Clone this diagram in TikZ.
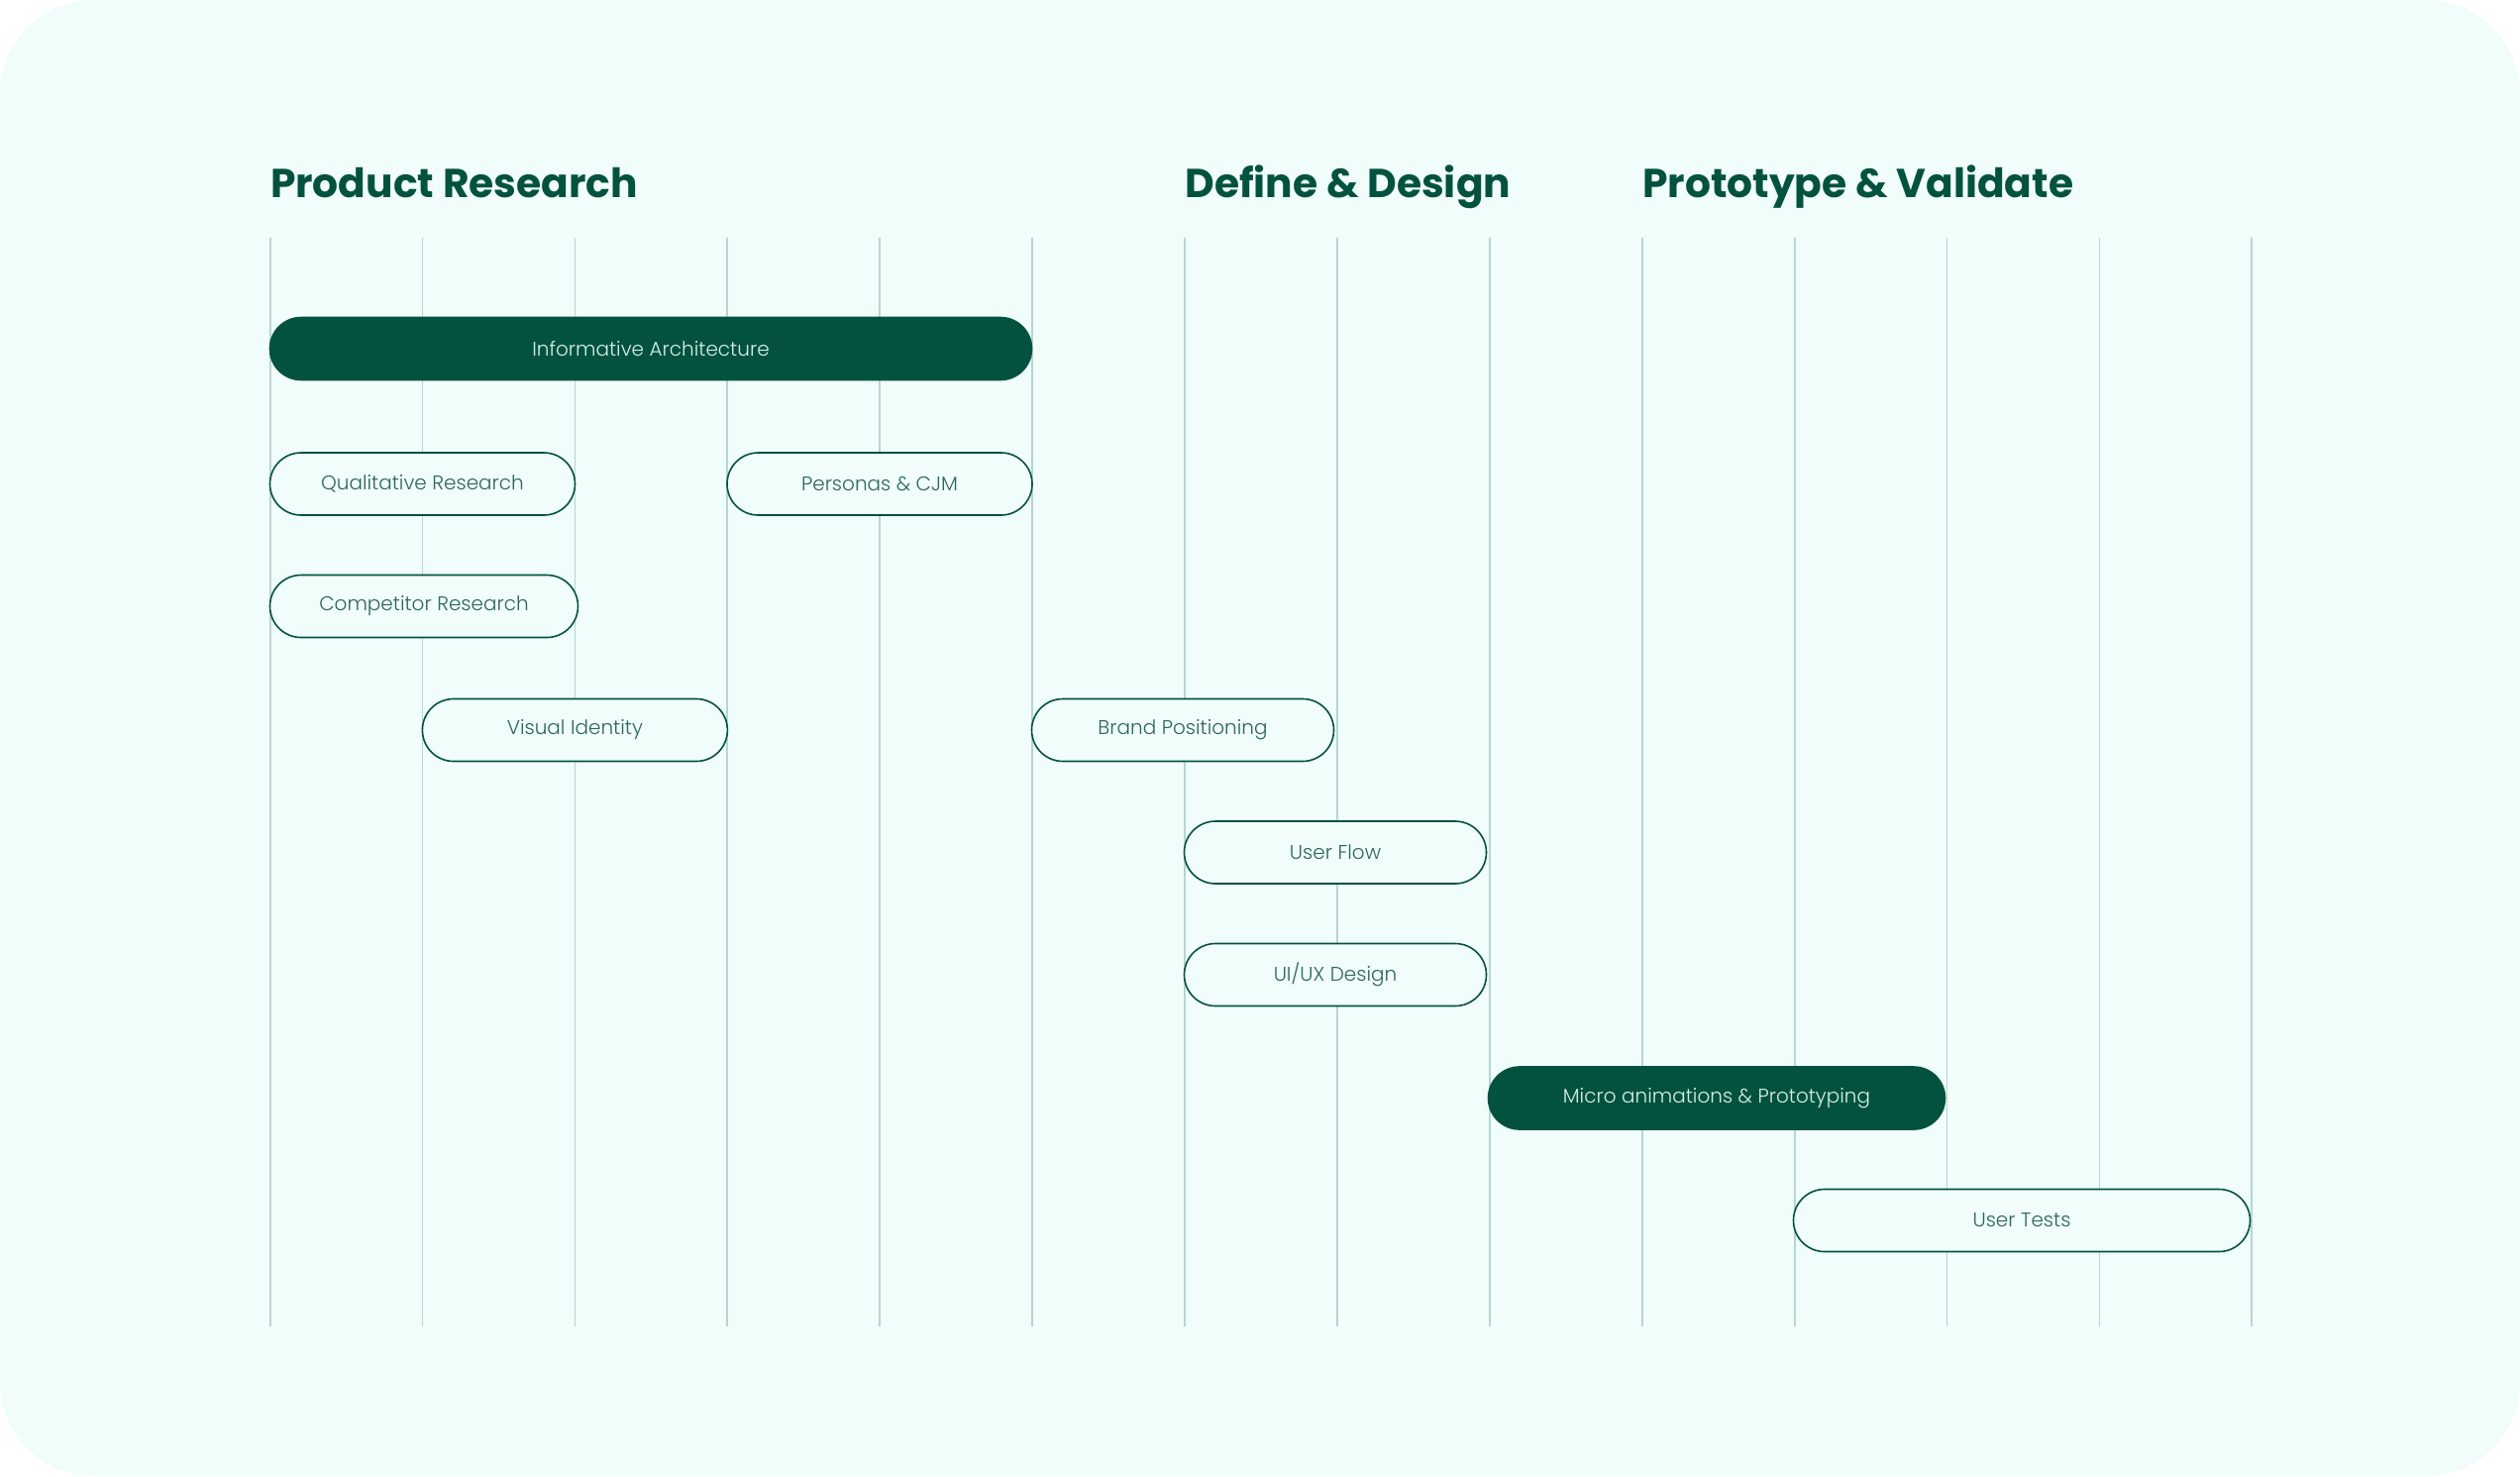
\documentclass[tikz,border=0pt]{standalone}
\usepackage{fontspec}
\setmainfont{Poppins}
\newfontfamily\lightfont{Poppins Light}
\definecolor{bgmint}{HTML}{F0FDFA}
\definecolor{dgreen}{HTML}{03523F}
\definecolor{gridc}{HTML}{B8D5CF}
\definecolor{ptext}{HTML}{2F665A}
\definecolor{ftext}{HTML}{D5EEE8}
\tikzset{
  pill/.style={draw=dgreen, line width=0.8pt, fill=bgmint, rounded corners=15.75pt,
    minimum height=31.5pt, inner sep=0pt, text=ptext, font=\lightfont\fontsize{10}{12}\selectfont},
  pillfill/.style={pill, fill=dgreen, text=ftext},
  gridline/.style={draw=gridc, line width=0.9pt},
  title/.style={anchor=base west, inner sep=0pt, text=dgreen, font=\bfseries\fontsize{20.4}{24}\selectfont}
}
\begin{document}
\begin{tikzpicture}[x=0.5pt,y=-0.5pt]
\useasboundingbox (0,0) rectangle (2544,1490);
\fill[white] (0,0) rectangle (2544,1490);
\fill[bgmint, rounded corners=47.5pt] (0,0) rectangle (2544,1490);
% grid lines
\foreach \i in {0,...,13}{
  \coordinate (t\i) at ({272.6+153.9*\i},240);
  \coordinate (b\i) at ({272.6+153.9*\i},1338.5);
  \draw[gridline] (t\i) -- (b\i);
}
% titles
\node[title] (h1) at (272.6,199) {Product Research};
\node[title] (h2) at (1196,199) {Define \& Design};
\node[title] (h3) at (1657.7,199) {Prototype \& Validate};
% pills
\node[pillfill, minimum width=384.5pt] (ia) at (657,352) {Informative Architecture};
\node[pill, minimum width=154pt] (qual) at (426.5,488.5) {Qualitative Research};
\node[pill, minimum width=154pt] (pers) at (888,488.5) {Personas \& CJM};
\node[pill, minimum width=155.5pt] (comp) at (428,612) {Competitor Research};
\node[pill, minimum width=154pt] (vis) at (580.4,737) {Visual Identity};
\node[pill, minimum width=152.5pt] (brand) at (1194,737) {Brand Positioning};
\node[pill, minimum width=152.5pt] (flow) at (1348,860.5) {User Flow};
\node[pill, minimum width=152.5pt] (uiux) at (1348,984) {UI/UX Design};
\node[pillfill, minimum width=230.5pt] (micro) at (1733,1108.5) {Micro animations \& Prototyping};
\node[pill, minimum width=230.5pt] (tests) at (2041,1232) {User Tests};
\end{tikzpicture}
\end{document}
